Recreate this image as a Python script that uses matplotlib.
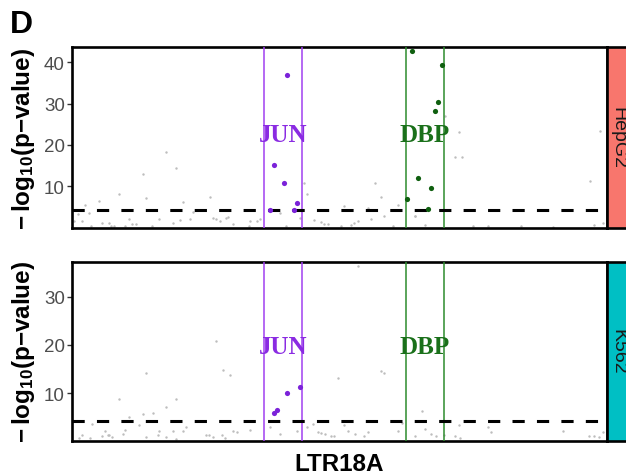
import numpy as np
import matplotlib
matplotlib.use("Agg")
import matplotlib.pyplot as plt

plt.rcParams['font.family'] = ['Liberation Sans', 'DejaVu Sans']
plt.rcParams['mathtext.fontset'] = 'custom'
plt.rcParams['mathtext.rm'] = 'Liberation Sans'
plt.rcParams['mathtext.bf'] = 'Liberation Sans:bold'

# ---- data (position along LTR18A, -log10 p) ----
hep_bg_x = [17.6, 19.4, 13.2, 8.8, 13.9, 5.0, 20.7, 25.8, 2.4, 3.1, 1.2, 22.7, 10.7, 16.3, 20.1, 22.0,
            26.4, 27.0, 27.6, 28.8, 0.4, 1.8, 5.6, 6.9, 11.9, 11.3, 18.8, 30.1, 7.3, 7.9, 9.9, 14.9,
            43.4, 43.9, 56.6, 57.8, 50.9, 55.4, 61.0, 35.1, 34.6, 42.7, 45.2, 46.5, 47.1, 47.8, 52.1,
            52.8, 53.4, 55.9, 58.4, 64.1, 38.9, 50.3, 72.3, 71.6, 72.9, 96.8, 98.7, 96.2, 77.8, 97.5,
            99.3, 69.7, 64.2, 33.3, 29.1, 33.0, 40.0, 60.0, 66.0, 75.0, 84.0, 90.0, 3.5]
hep_bg_y = [18.2, 14.4, 13.0, 8.0, 7.1, 6.4, 6.1, 7.4, 5.4, 3.4, 3.3, 3.8, 2.1, 2.0, 1.8, 2.1,
            2.3, 2.0, 1.5, 2.4, 1.5, 1.6, 1.2, 1.2, 0.8, 0.8, 1.0, 0.8, 0.3, 0.3, 0.3, 0.3,
            10.7, 8.1, 10.7, 7.5, 5.1, 4.7, 5.4, 2.1, 1.5, 2.3, 1.8, 1.3, 0.8, 0.9, 0.7,
            1.2, 1.5, 2.1, 2.7, 2.7, 3.4, 0.3, 23.0, 17.1, 17.1, 11.3, 23.4, 4.2, 0.4, 0.5,
            1.0, 27.0, 2.9, 1.6, 2.5, 0.3, 0.4, 0.4, 0.5, 0.3, 0.3, 0.2, 0.4]

k562_bg_x = [27.0, 28.3, 29.5, 13.8, 8.8, 19.4, 17.6, 15.1, 13.2, 10.7, 3.7, 12.5, 10.0, 6.2, 16.3,
             18.8, 20.7, 21.3, 30.1, 30.8, 1.9, 6.9, 9.5, 5.6, 16.0, 25.0, 25.6, 26.3, 28.1, 1.4,
             7.4, 13.8, 17.6, 19.5, 28.6, 53.4, 49.7, 57.7, 58.4, 65.4, 33.3, 37.0, 38.9, 42.0,
             43.9, 45.1, 45.9, 46.5, 47.2, 48.4, 49.0, 50.9, 51.5, 52.9, 55.3, 54.6, 61.6, 61.0,
             64.1, 66.0, 67.2, 68.0, 69.5, 71.6, 72.3, 77.8, 78.4, 72.6, 91.8, 96.7, 97.6, 98.6,
             99.2, 3.3, 6.8]
k562_bg_y = [20.9, 14.9, 13.8, 14.1, 8.8, 8.8, 7.2, 5.9, 5.6, 5.0, 3.6, 3.4, 2.4, 2.1, 2.2,
             2.1, 2.1, 2.9, 2.2, 1.9, 1.4, 1.3, 1.6, 1.0, 1.3, 1.3, 1.3, 0.8, 1.4, 0.7,
             0.9, 0.9, 0.9, 0.5, 0.7, 36.4, 13.1, 14.6, 14.1, 6.3, 2.3, 2.9, 1.5, 2.1,
             2.9, 3.6, 2.0, 1.8, 1.5, 1.1, 1.1, 3.4, 2.2, 1.5, 1.9, 1.0, 3.7, 2.2,
             1.2, 2.6, 1.5, 1.2, 1.3, 1.0, 3.4, 2.9, 1.9, 0.6, 2.2, 1.2, 1.2, 0.8,
             1.9, 0.6, 1.3]

hep_jun_x = [40.2, 37.7, 39.6, 37.1, 41.5, 42.1]
hep_jun_y = [37.0, 15.1, 10.8, 4.3, 4.2, 6.0]
hep_dbp_x = [63.5, 69.2, 68.5, 67.9, 64.7, 67.2, 62.7, 66.6]
hep_dbp_y = [42.7, 39.3, 30.3, 28.2, 12.1, 9.5, 6.8, 4.6]
k562_jun_x = [37.7, 38.3, 40.2, 42.7]
k562_jun_y = [5.9, 6.6, 10.1, 11.2]
k562_dbp_x = []
k562_dbp_y = []

jun_bounds = [35.9, 43.0]
dbp_bounds = [62.4, 69.6]
threshold = 4.25
cells = ['HepG2', 'K562']
strip_cols = ['#F8766D', '#00BFC4']

jun_line, jun_txt, jun_pt = '#A040F0', '#8A2BE2', '#7B22D9'
dbp_line, dbp_txt, dbp_pt = '#2E8B2E', '#1A701A', '#0F5F0F'

fig = plt.figure(figsize=(6.26, 4.77), dpi=100)

panels = [
    dict(rect=[0.1150, 0.5199, 0.8546, 0.3795], ylim=(-0.12, 43.7), ticks=[10, 20, 30, 40],
         bg=(hep_bg_x, hep_bg_y), jun=(hep_jun_x, hep_jun_y), dbp=(hep_dbp_x, hep_dbp_y), lab_y=22.6),
    dict(rect=[0.1150, 0.0740, 0.8546, 0.3753], ylim=(0.12, 37.3), ticks=[10, 20, 30],
         bg=(k562_bg_x, k562_bg_y), jun=(k562_jun_x, k562_jun_y), dbp=(k562_dbp_x, k562_dbp_y), lab_y=19.7),
]

for i, p in enumerate(panels):
    ax = fig.add_axes(p['rect'])
    ax.set_xlim(0, 100)
    ax.set_ylim(*p['ylim'])
    ax.scatter(p['bg'][0], p['bg'][1], s=3, color='#BDBDBD', linewidths=0, zorder=2)
    for b in jun_bounds:
        ax.axvline(b, color=jun_line, lw=1.1, zorder=3)
    for b in dbp_bounds:
        ax.axvline(b, color=dbp_line, lw=1.1, zorder=3)
    ax.axhline(threshold, color='black', lw=2.2, dashes=(4, 4), zorder=4)
    ax.scatter(p['jun'][0], p['jun'][1], s=14, color=jun_pt, linewidths=0, zorder=5)
    ax.scatter(p['dbp'][0], p['dbp'][1], s=14, color=dbp_pt, linewidths=0, zorder=5)
    ax.text(np.mean(jun_bounds), p['lab_y'], 'JUN', family='Liberation Serif', weight='bold',
            fontsize=18, color=jun_txt, ha='center', va='center', zorder=6)
    ax.text(np.mean(dbp_bounds), p['lab_y'], 'DBP', family='Liberation Serif', weight='bold',
            fontsize=18, color=dbp_txt, ha='center', va='center', zorder=6)
    ax.set_yticks(p['ticks'])
    ax.set_xticks([])
    ax.tick_params(axis='y', length=3.6, width=1, color='#333333', labelsize=13.5,
                   labelcolor='#4D4D4D', pad=1.5)
    for s in ax.spines.values():
        s.set_linewidth(1.9)
    ax.set_ylabel(r'$\mathbf{-\,log_{10}(p{-}value)}$', fontsize=17.5, labelpad=5)

    # facet strip on the right
    r = p['rect']
    sax = fig.add_axes([r[0] + r[2], r[1], 0.0495, r[3]])
    sax.set_facecolor(strip_cols[i])
    sax.set_xticks([])
    sax.set_yticks([])
    for s in sax.spines.values():
        s.set_linewidth(1.9)
    sax.text(0.36, 0.5, cells[i], rotation=-90, fontsize=14, color='#1A1A1A',
             ha='center', va='center', transform=sax.transAxes)

    if i == 1:
        ax.set_xlabel('LTR18A', fontsize=17.5, weight='bold', labelpad=8)

fig.text(10 / 626, 1 - 33 / 477, 'D', fontsize=23, weight='bold', va='baseline', ha='left')

fig.savefig('out.png', dpi=100)
